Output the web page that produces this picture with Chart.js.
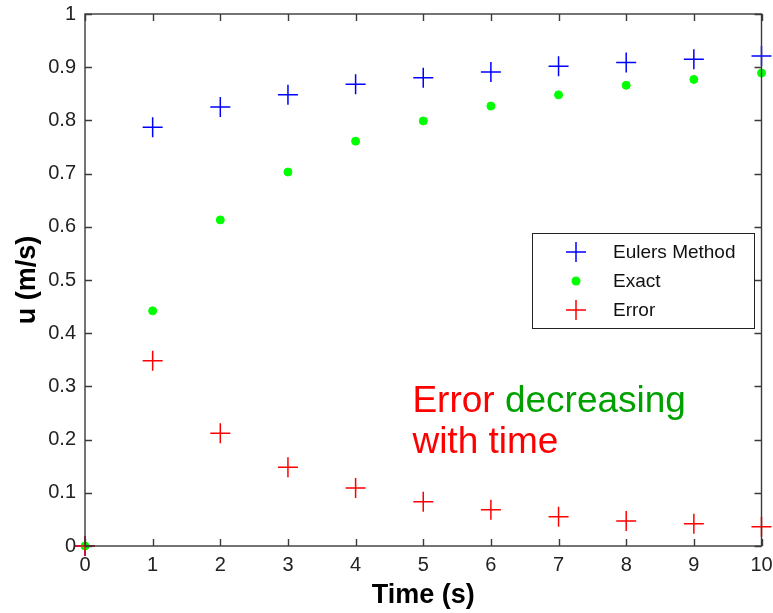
<!DOCTYPE html>
<html>
<head>
<meta charset="utf-8">
<script src="https://cdn.jsdelivr.net/npm/chart.js@4.4.1/dist/chart.umd.min.js"></script>
<style>
  html, body { margin: 0; padding: 0; background: #fff; }
  #wrap { width: 773px; height: 613px; }
</style>
</head>
<body>
<div id="wrap"><canvas id="grafico" width="773" height="613"></canvas></div>
<script>
const tiempo = [0, 1, 2, 3, 4, 5, 6, 7, 8, 9, 10];
const euler = [0, 0.787, 0.825, 0.848, 0.868, 0.880, 0.891, 0.902, 0.909, 0.915, 0.921];
const exacta = [0, 0.442, 0.613, 0.703, 0.761, 0.799, 0.827, 0.848, 0.866, 0.877, 0.889];
const errores = [0, 0.348, 0.212, 0.148, 0.109, 0.083, 0.068, 0.055, 0.047, 0.042, 0.036];
const xTicks = ["0", "1", "2", "3", "4", "5", "6", "7", "8", "9", "10"];
const yTicks = ["0", "0.1", "0.2", "0.3", "0.4", "0.5", "0.6", "0.7", "0.8", "0.9", "1"];
const nota = { x: 4.84, y: 0.252 };

const FONT = "'Liberation Sans', Arial, sans-serif";
const EJE = "#3a3a3a";

function puntos(vals) {
  return tiempo.map((t, i) => ({ x: t, y: vals[i] }));
}

// marco con marcas hacia dentro, estilo matlab
const marco = {
  id: "marco",
  afterDatasetsDraw(chart) {
    const { ctx, chartArea: a, scales } = chart;
    ctx.save();
    ctx.strokeStyle = EJE;
    ctx.lineWidth = 1.4;
    ctx.strokeRect(a.left, a.top, a.right - a.left, a.bottom - a.top);
    ctx.beginPath();
    tiempo.forEach(t => {
      const px = Math.round(scales.x.getPixelForValue(t)) + 0.5;
      ctx.moveTo(px, a.bottom); ctx.lineTo(px, a.bottom - 7);
      ctx.moveTo(px, a.top); ctx.lineTo(px, a.top + 7);
    });
    yTicks.forEach((_, i) => {
      const py = Math.round(scales.y.getPixelForValue(i / 10)) + 0.5;
      ctx.moveTo(a.left, py); ctx.lineTo(a.left + 7, py);
      ctx.moveTo(a.right, py); ctx.lineTo(a.right - 7, py);
    });
    ctx.stroke();
    ctx.restore();
  },
};

// leyenda dentro del area
const leyenda = {
  id: "leyenda",
  afterDraw(chart) {
    const { ctx } = chart;
    const x0 = 532, y0 = 233, w = 222, h = 95;
    ctx.save();
    ctx.fillStyle = "#fff";
    ctx.fillRect(x0, y0, w, h);
    ctx.strokeStyle = "#222";
    ctx.lineWidth = 1;
    ctx.strokeRect(x0 + 0.5, y0 + 0.5, w, h);
    ctx.font = "19px " + FONT;
    ctx.textBaseline = "middle";
    chart.data.datasets.forEach((ds, i) => {
      const cy = y0 + 19 + i * 29;
      const cx = x0 + 44;
      ctx.strokeStyle = ds.borderColor;
      ctx.fillStyle = ds.backgroundColor;
      ctx.lineWidth = 1.5;
      if (ds.pointStyle === "cross") {
        ctx.beginPath();
        ctx.moveTo(cx - 10, cy); ctx.lineTo(cx + 10, cy);
        ctx.moveTo(cx, cy - 10); ctx.lineTo(cx, cy + 10);
        ctx.stroke();
      } else {
        ctx.beginPath();
        ctx.arc(cx, cy, 4.5, 0, Math.PI * 2);
        ctx.fill();
      }
      ctx.fillStyle = "#111";
      ctx.fillText(ds.label, x0 + 81, cy + 1);
    });
    ctx.restore();
  },
};

// texto de anotacion
const anotacion = {
  id: "anotacion",
  afterDraw(chart) {
    const { ctx, scales } = chart;
    const x = scales.x.getPixelForValue(nota.x);
    const y = scales.y.getPixelForValue(nota.y);
    ctx.save();
    ctx.font = "37px " + FONT;
    ctx.textBaseline = "alphabetic";
    ctx.fillStyle = "#ff0000";
    ctx.fillText("Error ", x, y);
    const w = ctx.measureText("Error ").width;
    ctx.fillStyle = "#00a000";
    ctx.fillText("decreasing", x + w, y);
    ctx.fillStyle = "#ff0000";
    ctx.fillText("with time", x, y + 41);
    ctx.restore();
  },
};

const ctx = document.getElementById("grafico").getContext("2d");
const grafico = new Chart(ctx, {
  type: "scatter",
  data: {
    datasets: [
      {
        label: "Eulers Method",
        data: puntos(euler),
        pointStyle: "cross",
        pointRadius: 10,
        borderWidth: 1.5,
        borderColor: "#0000ff",
        backgroundColor: "#0000ff",
        clip: false,
        order: 3,
      },
      {
        label: "Exact",
        data: puntos(exacta),
        pointStyle: "circle",
        pointRadius: 4,
        borderWidth: 1,
        borderColor: "#00ff00",
        backgroundColor: "#00ff00",
        clip: false,
        order: 2,
      },
      {
        label: "Error",
        data: puntos(errores),
        pointStyle: "cross",
        pointRadius: 10,
        borderWidth: 1.5,
        borderColor: "#ff0000",
        backgroundColor: "#ff0000",
        clip: false,
        order: 1,
      },
    ],
  },
  options: {
    responsive: false,
    animation: false,
    events: [],
    layout: { padding: { top: 14, right: 10, left: 0, bottom: 0 } },
    plugins: {
      legend: { display: false },
      tooltip: { enabled: false },
    },
    scales: {
      x: {
        type: "linear",
        min: 0,
        max: 10,
        grid: { display: false, drawTicks: false },
        border: { display: false },
        ticks: {
          stepSize: 1,
          padding: 7,
          color: "#222",
          font: { family: FONT, size: 20 },
          maxRotation: 0,
          callback: v => xTicks[Math.round(v)],
        },
        title: {
          display: true,
          text: "Time (s)",
          color: "#000",
          font: { family: FONT, size: 27, weight: "bold" },
          padding: { top: 0, bottom: 1 },
        },
        afterFit(scale) {
          scale.height = 67;
          scale.paddingLeft = 0;
          scale.paddingRight = 0;
        },
      },
      y: {
        type: "linear",
        min: 0,
        max: 1,
        grid: { display: false, drawTicks: false },
        border: { display: false },
        ticks: {
          stepSize: 0.1,
          padding: 9,
          color: "#222",
          font: { family: FONT, size: 20 },
          callback: v => yTicks[Math.round(v * 10)],
        },
        title: {
          display: true,
          text: "u (m/s)",
          color: "#000",
          font: { family: FONT, size: 27, weight: "bold" },
          padding: { top: 11, bottom: 0 },
        },
        afterFit(scale) {
          scale.width = 85;
          scale.paddingTop = 0;
          scale.paddingBottom = 0;
        },
      },
    },
  },
  plugins: [marco, leyenda, anotacion],
});
</script>
</body>
</html>
